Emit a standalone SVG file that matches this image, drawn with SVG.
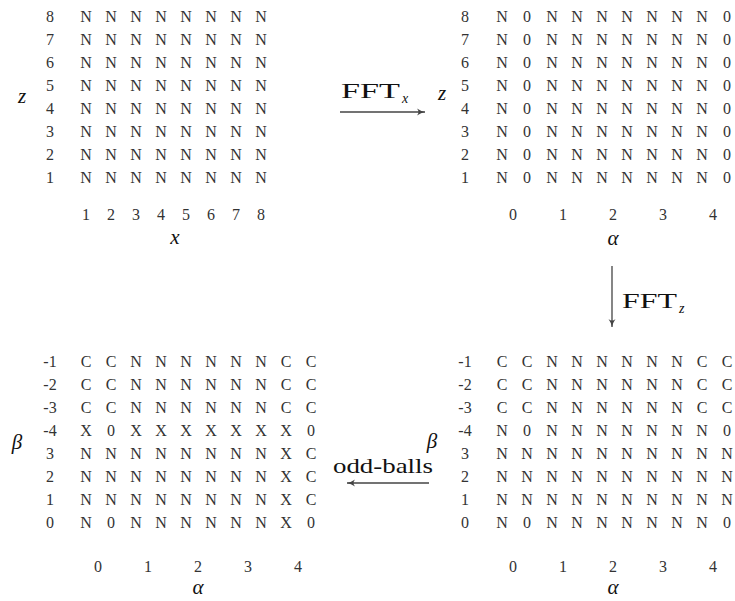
<svg xmlns="http://www.w3.org/2000/svg" width="735" height="601" viewBox="0 0 735 601">
<defs>
<style>
text{font-family:'Liberation Serif','DejaVu Serif',serif}
.g{font-size:16px;fill:#333;text-anchor:middle}
.m{font-size:21px;font-style:italic;fill:#111;text-anchor:middle}
.r{font-size:21px;fill:#111}
.s{font-size:14px;font-style:italic}
.c{stroke:#444;stroke-width:1.3;fill:none}
</style>
<marker id="ah" markerUnits="userSpaceOnUse" markerWidth="12" markerHeight="10" refX="9" refY="5" orient="auto">
<path d="M1,1.5 Q5,4.3 9,5 Q5,5.7 1,8.5 Q4,5 1,1.5 Z" fill="#444"/>
</marker>
</defs>
<rect width="735" height="601" fill="#fff"/>

<g id="grid-xz">
<text class="g" x="50" y="22">8</text>
<text class="g" x="50" y="45">7</text>
<text class="g" x="50" y="68">6</text>
<text class="g" x="50" y="91">5</text>
<text class="g" x="50" y="114">4</text>
<text class="g" x="50" y="137">3</text>
<text class="g" x="50" y="160">2</text>
<text class="g" x="50" y="183">1</text>
<text class="g" x="86 98.5 111 123.5 136 148.5 161 173.5 186 198.5 211 223.5 236 248.5 261" y="22">N N N N N N N N</text>
<text class="g" x="86 98.5 111 123.5 136 148.5 161 173.5 186 198.5 211 223.5 236 248.5 261" y="45">N N N N N N N N</text>
<text class="g" x="86 98.5 111 123.5 136 148.5 161 173.5 186 198.5 211 223.5 236 248.5 261" y="68">N N N N N N N N</text>
<text class="g" x="86 98.5 111 123.5 136 148.5 161 173.5 186 198.5 211 223.5 236 248.5 261" y="91">N N N N N N N N</text>
<text class="g" x="86 98.5 111 123.5 136 148.5 161 173.5 186 198.5 211 223.5 236 248.5 261" y="114">N N N N N N N N</text>
<text class="g" x="86 98.5 111 123.5 136 148.5 161 173.5 186 198.5 211 223.5 236 248.5 261" y="137">N N N N N N N N</text>
<text class="g" x="86 98.5 111 123.5 136 148.5 161 173.5 186 198.5 211 223.5 236 248.5 261" y="160">N N N N N N N N</text>
<text class="g" x="86 98.5 111 123.5 136 148.5 161 173.5 186 198.5 211 223.5 236 248.5 261" y="183">N N N N N N N N</text>
<text class="g" x="86 98.5 111 123.5 136 148.5 161 173.5 186 198.5 211 223.5 236 248.5 261" y="220">1 2 3 4 5 6 7 8</text>
<text class="m" x="22" y="103">z</text>
<text class="m" x="175" y="244">x</text>
</g>

<g id="grid-alpha-z">
<text class="g" x="465" y="22">8</text>
<text class="g" x="465" y="45">7</text>
<text class="g" x="465" y="68">6</text>
<text class="g" x="465" y="91">5</text>
<text class="g" x="465" y="114">4</text>
<text class="g" x="465" y="137">3</text>
<text class="g" x="465" y="160">2</text>
<text class="g" x="465" y="183">1</text>
<text class="g" x="502 514.5 527 539.5 552 564.5 577 589.5 602 614.5 627 639.5 652 664.5 677 689.5 702 714.5 727" y="22">N 0 N N N N N N N 0</text>
<text class="g" x="502 514.5 527 539.5 552 564.5 577 589.5 602 614.5 627 639.5 652 664.5 677 689.5 702 714.5 727" y="45">N 0 N N N N N N N 0</text>
<text class="g" x="502 514.5 527 539.5 552 564.5 577 589.5 602 614.5 627 639.5 652 664.5 677 689.5 702 714.5 727" y="68">N 0 N N N N N N N 0</text>
<text class="g" x="502 514.5 527 539.5 552 564.5 577 589.5 602 614.5 627 639.5 652 664.5 677 689.5 702 714.5 727" y="91">N 0 N N N N N N N 0</text>
<text class="g" x="502 514.5 527 539.5 552 564.5 577 589.5 602 614.5 627 639.5 652 664.5 677 689.5 702 714.5 727" y="114">N 0 N N N N N N N 0</text>
<text class="g" x="502 514.5 527 539.5 552 564.5 577 589.5 602 614.5 627 639.5 652 664.5 677 689.5 702 714.5 727" y="137">N 0 N N N N N N N 0</text>
<text class="g" x="502 514.5 527 539.5 552 564.5 577 589.5 602 614.5 627 639.5 652 664.5 677 689.5 702 714.5 727" y="160">N 0 N N N N N N N 0</text>
<text class="g" x="502 514.5 527 539.5 552 564.5 577 589.5 602 614.5 627 639.5 652 664.5 677 689.5 702 714.5 727" y="183">N 0 N N N N N N N 0</text>
<text class="g" x="513 538 563 588 613 638 663 688 713" y="220">0 1 2 3 4</text>
<text class="m" x="442" y="100">z</text>
<text class="m" x="613" y="245">α</text>
</g>

<g id="grid-alpha-beta">
<text class="g" x="465" y="367">-1</text>
<text class="g" x="465" y="390">-2</text>
<text class="g" x="465" y="413">-3</text>
<text class="g" x="465" y="436">-4</text>
<text class="g" x="465" y="459">3</text>
<text class="g" x="465" y="482">2</text>
<text class="g" x="465" y="505">1</text>
<text class="g" x="465" y="528">0</text>
<text class="g" x="502 514.5 527 539.5 552 564.5 577 589.5 602 614.5 627 639.5 652 664.5 677 689.5 702 714.5 727" y="367">C C N N N N N N C C</text>
<text class="g" x="502 514.5 527 539.5 552 564.5 577 589.5 602 614.5 627 639.5 652 664.5 677 689.5 702 714.5 727" y="390">C C N N N N N N C C</text>
<text class="g" x="502 514.5 527 539.5 552 564.5 577 589.5 602 614.5 627 639.5 652 664.5 677 689.5 702 714.5 727" y="413">C C N N N N N N C C</text>
<text class="g" x="502 514.5 527 539.5 552 564.5 577 589.5 602 614.5 627 639.5 652 664.5 677 689.5 702 714.5 727" y="436">N 0 N N N N N N N 0</text>
<text class="g" x="502 514.5 527 539.5 552 564.5 577 589.5 602 614.5 627 639.5 652 664.5 677 689.5 702 714.5 727" y="459">N N N N N N N N N N</text>
<text class="g" x="502 514.5 527 539.5 552 564.5 577 589.5 602 614.5 627 639.5 652 664.5 677 689.5 702 714.5 727" y="482">N N N N N N N N N N</text>
<text class="g" x="502 514.5 527 539.5 552 564.5 577 589.5 602 614.5 627 639.5 652 664.5 677 689.5 702 714.5 727" y="505">N N N N N N N N N N</text>
<text class="g" x="502 514.5 527 539.5 552 564.5 577 589.5 602 614.5 627 639.5 652 664.5 677 689.5 702 714.5 727" y="528">N 0 N N N N N N N 0</text>
<text class="g" x="513 538 563 588 613 638 663 688 713" y="572">0 1 2 3 4</text>
<text class="m" x="432" y="448">β</text>
<text class="m" x="613" y="594">α</text>
</g>

<g id="grid-final">
<text class="g" x="50" y="367">-1</text>
<text class="g" x="50" y="390">-2</text>
<text class="g" x="50" y="413">-3</text>
<text class="g" x="50" y="436">-4</text>
<text class="g" x="50" y="459">3</text>
<text class="g" x="50" y="482">2</text>
<text class="g" x="50" y="505">1</text>
<text class="g" x="50" y="528">0</text>
<text class="g" x="86 98.5 111 123.5 136 148.5 161 173.5 186 198.5 211 223.5 236 248.5 261 273.5 286 298.5 311" y="367">C C N N N N N N C C</text>
<text class="g" x="86 98.5 111 123.5 136 148.5 161 173.5 186 198.5 211 223.5 236 248.5 261 273.5 286 298.5 311" y="390">C C N N N N N N C C</text>
<text class="g" x="86 98.5 111 123.5 136 148.5 161 173.5 186 198.5 211 223.5 236 248.5 261 273.5 286 298.5 311" y="413">C C N N N N N N C C</text>
<text class="g" x="86 98.5 111 123.5 136 148.5 161 173.5 186 198.5 211 223.5 236 248.5 261 273.5 286 298.5 311" y="436">X 0 X X X X X X X 0</text>
<text class="g" x="86 98.5 111 123.5 136 148.5 161 173.5 186 198.5 211 223.5 236 248.5 261 273.5 286 298.5 311" y="459">N N N N N N N N X C</text>
<text class="g" x="86 98.5 111 123.5 136 148.5 161 173.5 186 198.5 211 223.5 236 248.5 261 273.5 286 298.5 311" y="482">N N N N N N N N X C</text>
<text class="g" x="86 98.5 111 123.5 136 148.5 161 173.5 186 198.5 211 223.5 236 248.5 261 273.5 286 298.5 311" y="505">N N N N N N N N X C</text>
<text class="g" x="86 98.5 111 123.5 136 148.5 161 173.5 186 198.5 211 223.5 236 248.5 261 273.5 286 298.5 311" y="528">N 0 N N N N N N X 0</text>
<text class="g" x="98 123 148 173 198 223 248 273 298" y="572">0 1 2 3 4</text>
<text class="m" x="17" y="449">β</text>
<text class="m" x="198" y="594">α</text>
</g>

<g id="connectors">
<line class="c" x1="340" y1="112" x2="425" y2="112" marker-end="url(#ah)"/>
<text class="r" x="341" y="98"><tspan textLength="59" lengthAdjust="spacingAndGlyphs">FFT</tspan><tspan class="s" x="402" y="103">x</tspan></text>
<line class="c" x1="612" y1="266" x2="612" y2="327" marker-end="url(#ah)"/>
<text class="r" x="622" y="308"><tspan textLength="55" lengthAdjust="spacingAndGlyphs">FFT</tspan><tspan class="s" x="679" y="313">z</tspan></text>
<line class="c" x1="429" y1="483" x2="347" y2="483" marker-end="url(#ah)"/>
<text class="r" x="333" y="473" font-size="22" textLength="100" lengthAdjust="spacingAndGlyphs">odd-balls</text>
</g>
</svg>
